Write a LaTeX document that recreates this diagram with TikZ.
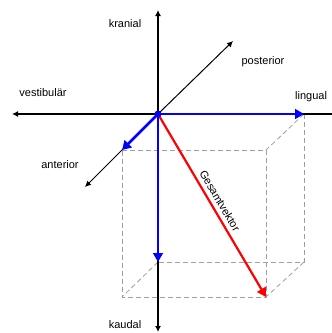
\documentclass[tikz,border=0pt]{standalone}
\usepackage{fontspec}
\setmainfont{Liberation Sans}
\usetikzlibrary{arrows.meta, positioning}

\begin{document}
\begin{tikzpicture}[
    x=1pt, y=-1pt,
    axis/.style={black, line width=1.6pt, -{Latex[length=6pt,width=6pt]}},
    diag/.style={black, line width=1pt, -{Latex[length=6pt,width=6pt]}},
    comp/.style={blue, line width=1.6pt, -{Triangle[length=9pt,width=10pt]}},
    total/.style={red, line width=2.2pt, -{Triangle[length=9pt,width=10pt]}},
    hidden/.style={gray!75, line width=0.8pt, dash pattern=on 5pt off 3pt},
    lbl/.style={text=black, font=\fontsize{11}{13}\selectfont, inner sep=1pt}
]
\clip (0,0) rectangle (332,333);

% axes
\coordinate (O) at (158,114);
\coordinate (top) at (158,10);
\coordinate (bottom) at (158,332);
\coordinate (left) at (12,114);
\coordinate (right) at (340,114);
\coordinate (post) at (233,41);
\coordinate (ant) at (85,187);

% box corners
\coordinate (fa) at (122,150);
\coordinate (fb) at (266,150);
\coordinate (fc) at (266,297);
\coordinate (fd) at (122,297);
\coordinate (bb) at (304,114);
\coordinate (bc) at (304,262);
\coordinate (bd) at (158,262);

\draw[hidden] (fa) -- (fb) -- (fc) -- (fd) -- cycle;
\draw[hidden] (bb) -- (bc) -- (bd);
\draw[hidden] (bb) -- (fb);
\draw[hidden] (bc) -- (fc);
\draw[hidden] (bd) -- (fd);

\draw[axis] (O) -- (top);
\draw[axis] (O) -- (bottom);
\draw[axis] (O) -- (left);
\draw[black, line width=1.6pt] (O) -- (right);
\draw[diag] (O) -- (post);
\draw[diag] (O) -- (ant);

\draw[comp] (O) -- (bb);
\draw[comp] (O) -- (bd);
\draw[comp, line width=2.6pt] (O) -- (fa);
\draw[total] (O) -- (fc) node[midway, above=3pt, sloped, lbl] (gv) {Gesamtvektor};
\fill[blue] (O) circle (3.5pt);

\node[lbl] (kran) at (125,24) {kranial};
\node[lbl] (postl) at (263,62) {posterior};
\node[lbl] (vest) at (43,93) {vestibulär};
\node[lbl, anchor=west] (ling) at (294,97) {lingual};
\node[lbl] (antl) at (60,165) {anterior};
\node[lbl] (kaud) at (125,325) {kaudal};
\end{tikzpicture}
\end{document}
